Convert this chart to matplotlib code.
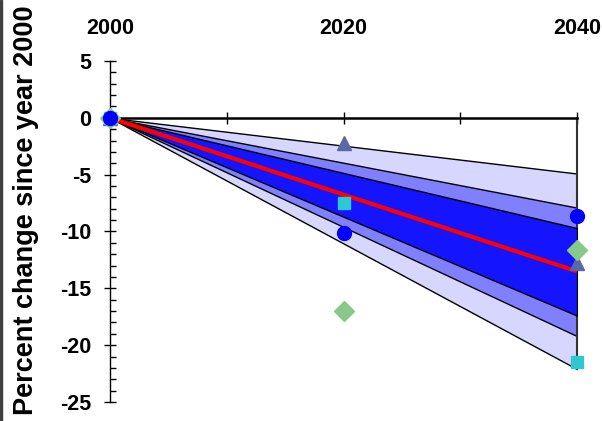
# Fan chart of projected percent change since 2000, with model points

import matplotlib
matplotlib.use('Agg')
import matplotlib.pyplot as plt
from matplotlib.patches import Rectangle

plt.rcParams['font.family'] = ['Liberation Sans', 'DejaVu Sans']
plt.rcParams['font.weight'] = 'bold'
plt.rcParams['axes.unicode_minus'] = False

# fan: central projection and three uncertainty bands (2000 -> 2040)
fan_years = [2000, 2040]
central = [0, -13.5]
outer_hi = [0, -4.9];  outer_lo = [0, -22.1]
mid_hi = [0, -7.9];    mid_lo = [0, -19.2]
inner_hi = [0, -9.7];  inner_lo = [0, -17.4]

# individual model points
years = [2000, 2020, 2040]
circle = [0, -10.1, -8.65]
square = [0, -7.5, -21.5]
triangle = [0, -2.25, -12.75]
diamond = [0, -17.0, -11.6]

top_labels = [2000, 2020, 2040]

fig = plt.figure(figsize=(6.02, 4.21), dpi=100)
ax = fig.add_axes([110/602, 19/421, 467/602, 341/421])

ax.fill_between(fan_years, outer_lo, outer_hi, facecolor='#d6d6ff', edgecolor='black', lw=1.0, zorder=1)
ax.fill_between(fan_years, mid_lo, mid_hi, facecolor='#8080ff', edgecolor='black', lw=1.0, zorder=2)
ax.fill_between(fan_years, inner_lo, inner_hi, facecolor='#1414ff', edgecolor='black', lw=1.0, zorder=3)
ax.plot(fan_years, central, color='#ff0000', lw=3, zorder=4, solid_capstyle='butt')

ax.plot(years, triangle, '^', color='#5a68a8', ms=10, ls='none', zorder=5, clip_on=False)
ax.plot(years, diamond, 'D', color='#88c888', ms=10, ls='none', zorder=5, clip_on=False)
ax.plot(years, square, 's', color='#2ec8d0', ms=9, ls='none', zorder=5, clip_on=False)
ax.plot(years, circle, 'o', color='#0000ff', ms=10, ls='none', zorder=6, clip_on=False)

ax.set_xlim(2000, 2040)
ax.set_ylim(-25, 5)

ax.spines['top'].set_visible(False)
ax.spines['bottom'].set_position(('data', 0))
ax.spines['bottom'].set_linewidth(1.8)
ax.spines['left'].set_linewidth(1.0)
ax.spines['right'].set_bounds(outer_lo[-1], 0)
ax.spines['right'].set_linewidth(1.5)
ax.spines['right'].set_color('#333333')

ax.set_xticks([2000, 2010, 2020, 2030, 2040])
ax.tick_params(axis='x', direction='inout', length=9, width=1, labelbottom=False)
ax.set_yticks(range(-25, 6, 5))
ax.set_yticks(range(-25, 6, 1), minor=True)
ax.tick_params(axis='y', which='major', direction='inout', length=9, width=1, pad=9, labelsize=15.5)
ax.tick_params(axis='y', which='minor', direction='in', length=4, width=1)
ax.tick_params(right=False)
for lab in ax.get_yticklabels():
    lab.set_fontweight('bold')

top = ax.secondary_xaxis('top')
top.set_xticks(top_labels)
top.spines['top'].set_visible(False)
top.tick_params(length=0, pad=16, labelsize=15.5)
for lab in top.get_xticklabels():
    lab.set_fontweight('bold')

ax.set_ylabel('Percent change since year 2000', fontsize=19.5, fontweight='bold')
ax.yaxis.set_label_coords(-0.152, 0.563)

fig.add_artist(Rectangle((0, 0), 2/602, 1, transform=fig.transFigure, color='#404040'))

plt.savefig('out.png', dpi=100)
